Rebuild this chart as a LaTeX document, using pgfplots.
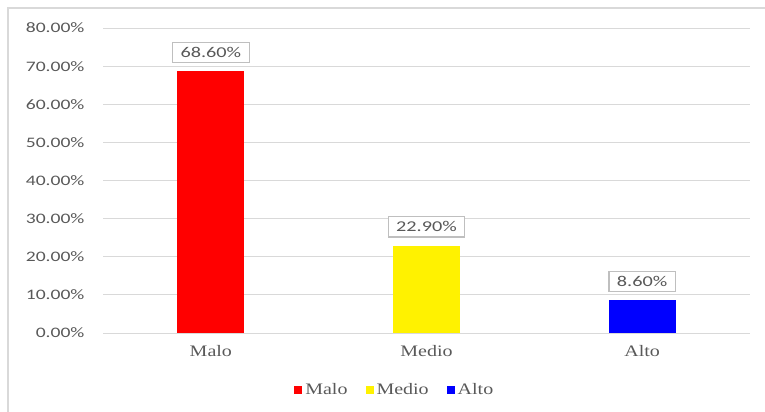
\documentclass[border=0pt]{standalone}
\usepackage{pgfplots}
\pgfplotsset{compat=1.18}
\usepackage{fontspec}
\setmainfont{Liberation Serif}[FakeStretch=1.25]
\newfontfamily\numfont{Carlito}[FakeStretch=1.35]
\definecolor{txt}{HTML}{595959}
\definecolor{gridc}{HTML}{D9D9D9}
\definecolor{boxc}{HTML}{BFBFBF}

\begin{document}
\begin{tikzpicture}
\useasboundingbox (0,0) rectangle (765bp,412bp);
\draw[gridc, line width=2bp] (8bp,0) -- (8bp,404bp) -- (765bp,404bp);
\begin{axis}[
  at={(103bp,79bp)}, anchor=south west,
  scale only axis, width=647bp, height=305bp,
  ybar, bar width=67bp, bar shift=0pt,
  xmin=-0.5, xmax=2.5, ymin=0, ymax=80,
  xtick={0,1,2}, xticklabels={Malo,Medio,Alto},
  ytick={0,10,...,80},
  yticklabel={\pgfmathprintnumber[fixed,fixed zerofill,precision=2]{\tick}\%},
  /pgf/number format/assume math mode=true,
  axis line style={draw=none},
  major tick length=0pt,
  ymajorgrids, grid style={gridc, line width=0.9bp},
  yticklabel style={font=\numfont\fontsize{14.5bp}{16bp}\selectfont, text=txt, xshift=-15bp},
  xticklabel style={font=\fontsize{16bp}{18bp}\selectfont, text=txt, yshift=-9bp},
  nodes near coords={\pgfmathprintnumber[fixed,fixed zerofill,precision=2]{\pgfplotspointmeta}\%},
  nodes near coords style={font=\numfont\fontsize{15bp}{17bp}\selectfont, text=txt,
    draw=boxc, line width=1.3bp, fill=white, inner xsep=8bp, inner ysep=5bp, anchor=south, yshift=8bp},
  legend columns=3,
  legend style={draw=none, fill=none, at={(0.451,-0.187)}, anchor=center,
    font=\fontsize{16bp}{18bp}\selectfont, text=txt,
    /tikz/every odd column/.append style={column sep=1bp},
    /tikz/every even column/.append style={column sep=16bp}},
  legend image code/.code={\fill[#1] (0bp,-4bp) rectangle (8bp,4bp);},
]
\addplot[fill=red, draw=none] coordinates {(0,68.6)};
\addlegendentry{Malo}
\addplot[fill=yellow, draw=none] coordinates {(1,22.9)};
\addlegendentry{Medio}
\addplot[fill=blue, draw=none] coordinates {(2,8.6)};
\addlegendentry{Alto}
\end{axis}
\end{tikzpicture}
\end{document}
